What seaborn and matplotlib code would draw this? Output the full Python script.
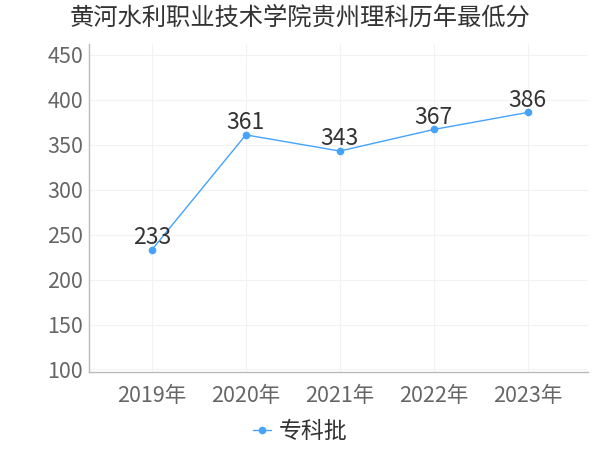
import matplotlib
matplotlib.use("Agg")
import matplotlib.pyplot as plt
import seaborn as sns
import pandas as pd

title = "黄河水利职业技术学院贵州理科历年最低分"
years = ["2019年", "2020年", "2021年", "2022年", "2023年"]
scores = [233, 361, 343, 367, 386]
series_name = "专科批"
y_ticks = [100, 150, 200, 250, 300, 350, 400, 450]

sns.set_theme(style="white")
plt.rcParams['font.family'] = ['Noto Sans CJK SC', 'DejaVu Sans']

df = pd.DataFrame({"year": years, "score": scores})
color = "#45a3fa"

fig = plt.figure(figsize=(6, 4.5), dpi=100)
ax = fig.add_axes([0.148, 0.173, 0.832, 0.729])

sns.lineplot(data=df, x="year", y="score", ax=ax, color=color, marker="o",
             markersize=5.5, markeredgewidth=0, linewidth=1, label=series_name,
             sort=False)

for i, v in enumerate(scores):
    ax.text(i, v + 1, str(v), ha="center", va="bottom", fontsize=16.5, color="#333333")

ax.set_xlim(-0.67, 4.64)
ax.set_ylim(97, 462)
ax.set_yticks(y_ticks)
ax.set_xlabel("")
ax.set_ylabel("")
ax.tick_params(axis="both", labelsize=15.5, colors="#666666", length=3, width=0.8)
ax.tick_params(axis="y", length=0, pad=4)
ax.tick_params(axis="x", pad=6)
ax.grid(True, color="#f2f2f2", linewidth=0.8)
for side in ["top", "right"]:
    ax.spines[side].set_visible(False)
for side in ["left", "bottom"]:
    ax.spines[side].set_color("#bbbbbb")
    ax.spines[side].set_linewidth(1)

fig.suptitle(title, x=0.5, y=0.99, fontsize=17.5, color="#333333")

leg = ax.legend(loc="center", bbox_to_anchor=(0.5, 0.042), bbox_transform=fig.transFigure,
                frameon=False, fontsize=16.5, handlelength=0.8, handletextpad=0.3)
for t in leg.get_texts():
    t.set_color("#333333")

fig.savefig("out.png", dpi=100)
